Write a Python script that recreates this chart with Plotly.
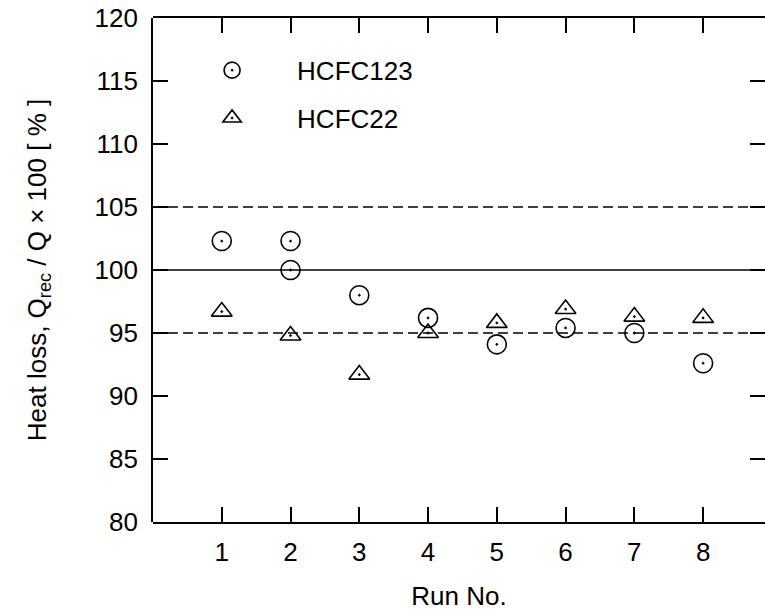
import plotly.graph_objects as go

runs = [1, 2, 2, 3, 4, 5, 6, 7, 8]
hcfc123 = [102.3, 102.3, 100.0, 98.0, 96.2, 94.1, 95.4, 95.0, 92.6]
runs22 = [1, 2, 3, 4, 5, 6, 7, 8]
hcfc22 = [96.7, 94.8, 91.7, 95.0, 95.8, 96.9, 96.3, 96.2]
ref_solid = [100]
ref_dashed = [95, 105]
x_ticks = [1, 2, 3, 4, 5, 6, 7, 8]
y_ticks = [80, 85, 90, 95, 100, 105, 110, 115, 120]

FONT = "Liberation Sans, Arial, sans-serif"
TICKLEN = 15
PLOT_W = 765 - 153

fig = go.Figure()
fig.add_trace(go.Scatter(
    x=runs, y=hcfc123, mode="markers", name="HCFC123", legendgroup="a",
    marker=dict(symbol="circle-open-dot", size=19, color="black", line=dict(width=1.6, color="black")),
))
fig.add_trace(go.Scatter(
    x=runs22, y=hcfc22, mode="markers", name="HCFC22", legendgroup="b",
    marker=dict(symbol="triangle-up-open-dot", size=18, color="black", line=dict(width=1.6, color="black")),
))

for yv in ref_solid:
    fig.add_shape(type="line", xref="paper", x0=0, x1=1, yref="y", y0=yv, y1=yv,
                  line=dict(color="black", width=1.6), layer="below")
for yv in ref_dashed:
    fig.add_shape(type="line", xref="paper", x0=0, x1=1, yref="y", y0=yv, y1=yv,
                  line=dict(color="black", width=1.6, dash="10px,5px"), layer="below")

# left frame line only (the right frame line is cut off in the reference)
fig.add_shape(type="line", xref="paper", yref="paper", x0=-1 / PLOT_W, x1=-1 / PLOT_W, y0=0, y1=1,
              line=dict(color="black", width=2))

fig.update_layout(
    width=765, height=616,
    margin=dict(l=153, r=0, t=18, b=94),
    paper_bgcolor="white", plot_bgcolor="white",
    font=dict(family=FONT, size=26, color="black"),
    showlegend=True,
    legend=dict(x=0.023, y=0.943, xanchor="left", yanchor="top",
                bgcolor="rgba(0,0,0,0)", itemwidth=120, tracegroupgap=11,
                font=dict(size=26), traceorder="grouped"),
    xaxis=dict(range=[0, 8.9], tickvals=x_ticks, ticks="inside", ticklen=TICKLEN, tickwidth=2,
               showline=True, linewidth=2, linecolor="black", mirror="ticks",
               showgrid=False, zeroline=False, tickcolor="black",
               title=dict(text="Run No.", standoff=21, font=dict(size=26)),
               ticklabelstandoff=6),
    yaxis=dict(range=[80, 120], tickvals=y_ticks, ticks="inside", ticklen=TICKLEN, tickwidth=2,
               showline=False, mirror="ticks",
               showgrid=False, zeroline=False, tickcolor="black",
               title=dict(text="Heat loss, Q<sub>rec</sub> / Q × 100 [ % ]", standoff=40, font=dict(size=26)),
               ticklabelstandoff=14),
)

fig.write_html("out.html")
